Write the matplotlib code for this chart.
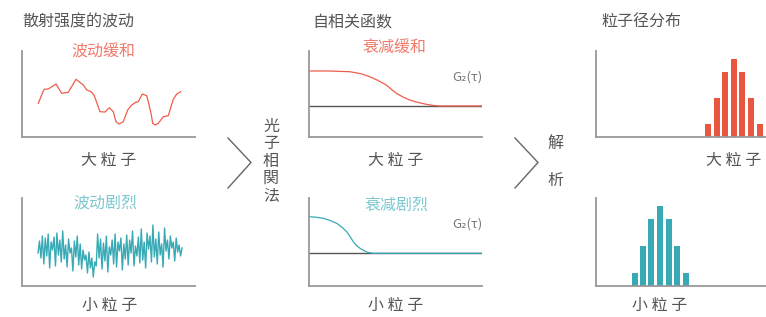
import numpy as np
import matplotlib.pyplot as plt
from matplotlib.lines import Line2D

plt.rcParams['font.family'] = ['Noto Sans CJK SC', 'DejaVu Sans']

W, H = 766, 317
RED = '#ef5d4c'
RED_TXT = '#f07a6c'
RED_BAR = '#e9573f'
TEAL = '#37aab6'
TEAL_TXT = '#7cc8d0'
GRAY = '#555555'
AXIS = '#999999'

# slow fluctuation (large particles)
slow_t = [16.3, 22, 26.3, 34, 39.7, 46.3, 54, 61.3, 64.7, 69, 72, 78, 83, 87.3, 91.3,
          94, 97, 101.3, 105.7, 109.7, 113.7, 116.3, 120.3, 124.7, 126.7, 129, 130.7,
          133, 136.3, 141.3, 146.3, 149, 151.3, 154.7, 158.7]
slow_i = [33.7, 47.7, 48, 53, 43.7, 44.7, 57.7, 52, 47, 45.3, 42, 25.3, 25, 29.3, 25.3,
          15.3, 13, 15.3, 27, 32, 34.7, 35.3, 43, 41.3, 33.7, 23.7, 13.7,
          12, 13.7, 20.3, 21.3, 30.3, 37.7, 43, 45.3]

# fast fluctuation (small particles)
fast_i = [33, 45, 28, 50, 22, 48, 30, 52, 18, 44, 36, 49, 20, 53, 31, 46, 24, 55, 27, 41,
          19, 47, 33, 38, 15, 45, 29, 50, 21, 42, 17, 36, 26, 31, 13, 34, 18, 28, 9, 24,
          20, 52, 28, 47, 17, 43, 25, 50, 14, 39, 31, 46, 22, 52, 19, 44, 35, 48, 16, 42,
          27, 51, 21, 46, 33, 55, 20, 40, 30, 49, 23, 57, 26, 44, 18, 53, 37, 50, 24, 61,
          29, 47, 22, 54, 31, 42, 19, 58, 35, 46, 27, 50, 38, 44, 25, 48, 34, 41, 30, 38]
fast_t = np.linspace(16, 160, len(fast_i))

# autocorrelation curves
g2_slow_tau = [0, 20, 40.7, 52, 60.7, 69, 77.3, 82, 87.3, 94, 100.7, 108, 117.3, 124, 130.7, 173]
g2_slow = [66, 66, 65.3, 63.3, 60.3, 56.5, 52, 48, 43.7, 40, 37, 34.8, 32.7, 31.6, 31, 31]
g2_fast_tau = [0, 7, 14.3, 21, 27.7, 33, 37.7, 41, 44.3, 47.5, 51, 54.5, 57.7, 61, 64.3, 173]
g2_fast = [69.3, 68.8, 67.7, 65.6, 62.7, 58.8, 54.3, 49.5, 44.3, 40.5, 37.7, 35.6, 34, 33.2, 32.7, 32.7]
g2_base = [31, 32.7]

# size distributions
counts = [1, 3, 5, 6, 5, 3, 1]
size_large = [112, 120.7, 129.3, 137.7, 146.3, 155, 163.7]
size_small = [38.7, 46.7, 55.3, 64, 72.7, 81.3, 90]

fig = plt.figure(figsize=(W / 100, H / 100), dpi=100)


def px_axes(x0, y0, x1, y1):
    ax = fig.add_axes([x0 / W, 1 - y1 / H, (x1 - x0) / W, (y1 - y0) / H])
    for s in ['top', 'right']:
        ax.spines[s].set_visible(False)
    for s in ['left', 'bottom']:
        ax.spines[s].set_color(AXIS)
        ax.spines[s].set_linewidth(1.3)
    ax.set_xticks([])
    ax.set_yticks([])
    ax.patch.set_alpha(0)
    return ax


def ftext(x, y, s, ha='center', **kw):
    kw.setdefault('color', GRAY)
    kw.setdefault('fontsize', 11.5)
    fig.text(x / W, 1 - y / H, s, ha=ha, va='center', **kw)


# column 1: scattering intensity
ax = px_axes(22, 51, 195, 137)
ax.plot(slow_t, slow_i, color=RED, lw=0.9)
ax.set_xlim(0, 173)
ax.set_ylim(0, 86)

ax = px_axes(22, 198, 195, 286)
ax.plot(fast_t, fast_i, color=TEAL, lw=1.0)
ax.set_xlim(0, 173)
ax.set_ylim(0, 88)

# column 2: autocorrelation
ax = px_axes(309, 51, 482, 137)
ax.axhline(g2_base[0], color='#555555', lw=1.0)
ax.plot(g2_slow_tau, g2_slow, color=RED, lw=0.9)
ax.set_xlim(0, 173)
ax.set_ylim(0, 86)

ax = px_axes(309, 198, 482, 286)
ax.axhline(g2_base[1], color='#555555', lw=1.0)
ax.plot(g2_fast_tau, g2_fast, color=TEAL, lw=0.9)
ax.set_xlim(0, 173)
ax.set_ylim(0, 88)

# column 3: size distribution
ax = px_axes(596, 51, 766, 137)
ax.bar(size_large, counts, width=6, color=RED_BAR)
ax.set_xlim(0, 170)
ax.set_ylim(0, 6.6)

ax = px_axes(596, 198, 766, 286)
ax.bar(size_small, counts, width=6, color=TEAL)
ax.set_xlim(0, 170)
ax.set_ylim(0, 6.6)

# chevrons
for xa, xb in [(228, 251), (515, 538)]:
    fig.add_artist(Line2D([xa / W, xb / W, xa / W], [1 - 138 / H, 1 - 162.5 / H, 1 - 188 / H],
                          color='#666666', lw=1.0))

# texts
ftext(22, 22, '散射强度的波动', ha='left')
ftext(312, 22, '自相关函数', ha='left')
ftext(601, 22, '粒子径分布', ha='left')

ftext(103, 52.5, '波动缓和', color=RED_TXT)
ftext(105, 203, '波动剧烈', color=TEAL_TXT)
ftext(394, 47, '衰减缓和', color=RED_TXT)
ftext(396, 205, '衰减剧烈', color=TEAL_TXT)

ftext(108.5, 160, '大 粒 子')
ftext(110, 305.5, '小 粒 子')
ftext(396, 160, '大 粒 子')
ftext(396, 305.5, '小 粒 子')
ftext(733.5, 160, '大 粒 子')
ftext(660, 305.5, '小 粒 子')

ftext(467.5, 77, 'G₂(τ)', fontsize=9.5, color='#777777')
ftext(467.5, 224, 'G₂(τ)', fontsize=9.5, color='#777777')

for i, ch in enumerate('光子相関法'):
    ftext(271, 126 + i * 17.5, ch)
ftext(555, 143, '解')
ftext(555, 180, '析')

fig.savefig('out.png', dpi=100)
